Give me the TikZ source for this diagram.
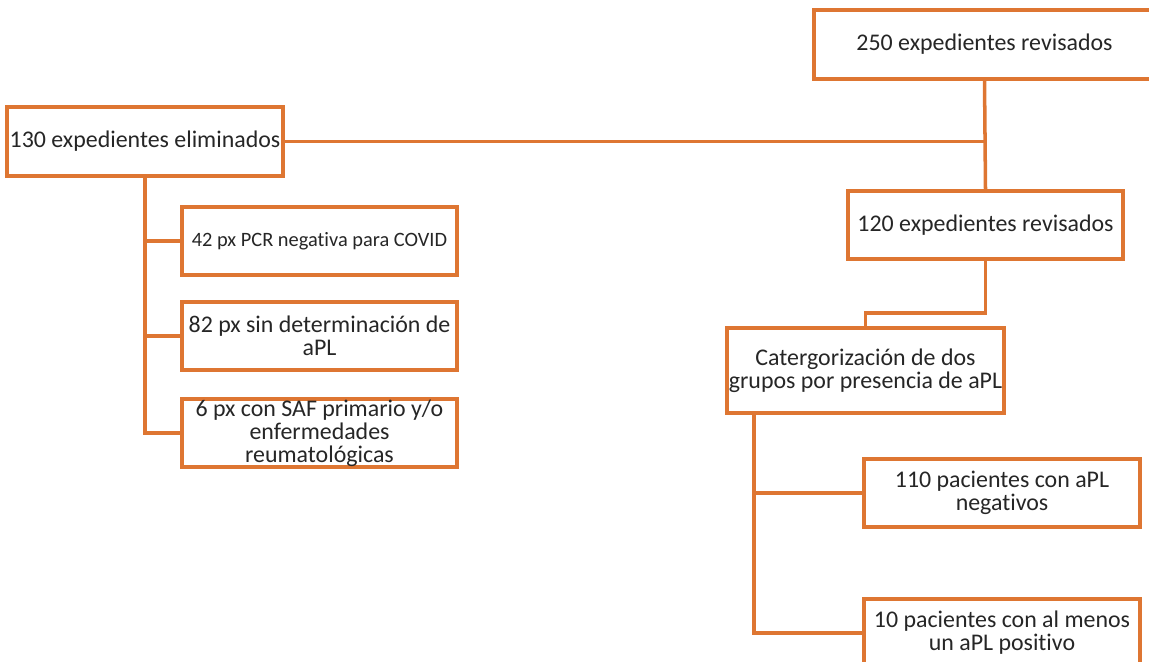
\documentclass[tikz,border=0pt]{standalone}
\usepackage{fontspec}
\setmainfont{Carlito}[Ligatures=NoCommon]
\usepackage{tikz}
\usetikzlibrary{positioning,calc}

\definecolor{flowline}{RGB}{222,118,50}
\definecolor{flowtext}{RGB}{38,38,38}

\begin{document}
\begin{tikzpicture}[x=0.02cm,y=-0.02cm,
    box/.style={draw=flowline,line width=2pt,fill=white,text=flowtext,
      align=center,inner sep=0pt,minimum width=5.52cm,minimum height=1.38cm,
      font=\fontsize{13.6}{13}\selectfont},
    link/.style={draw=flowline,line width=2pt}]
  \useasboundingbox (0,0) rectangle (1149,662);

  % right column
  \node[box,minimum width=6.82cm] (rev250) at (984.5,44.5) {250 expedientes revisados};
  \node[box,minimum width=5.5cm,minimum height=1.36cm] (rev120) at (985.5,225) {120 expedientes revisados};
  \node[box,minimum width=5.54cm,minimum height=1.7cm] (cat) at (865.5,370.5)
    {Catergorización de dos\\grupos por presencia de aPL};
  \node[box,minimum height=1.36cm] (neg110) at (1002,493) {110 pacientes con aPL\\negativos};
  \node[box,minimum height=1.36cm] (pos10) at (1002,633) {10 pacientes con al menos\\un aPL positivo};

  % left column
  \node[box] (elim130) at (145,141.5) {130 expedientes eliminados};
  \node[box,minimum width=5.5cm,minimum height=1.36cm,font=\fontsize{11.6}{13}\selectfont]
    (covid42) at (319.5,241) {42 px PCR negativa para COVID};
  \node[box,minimum width=5.5cm,minimum height=1.36cm] (apl82) at (319.5,336)
    {82 px sin determinación de\\aPL};
  \node[box,minimum width=5.5cm,minimum height=1.36cm] (saf6) at (319.5,433)
    {6 px con SAF primario y/o\\enfermedades\\reumatológicas};

  \coordinate (split) at (rev250.south |- elim130.east);
  \coordinate (bend) at (985.5,313);
  \coordinate (trunk) at (754,413);

  \draw[link] (rev250.south) -- (rev120.north);
  \draw[link] (elim130.east) -- (split);
  \draw[link] (rev120.south) -- (bend) -| (cat.north);
  \draw[link] (trunk) |- (neg110.west);
  \draw[link] (trunk) |- (pos10.west);
  \draw[link] (elim130.south) |- (covid42.west);
  \draw[link] (elim130.south) |- (apl82.west);
  \draw[link] (elim130.south) |- (saf6.west);
\end{tikzpicture}
\end{document}
